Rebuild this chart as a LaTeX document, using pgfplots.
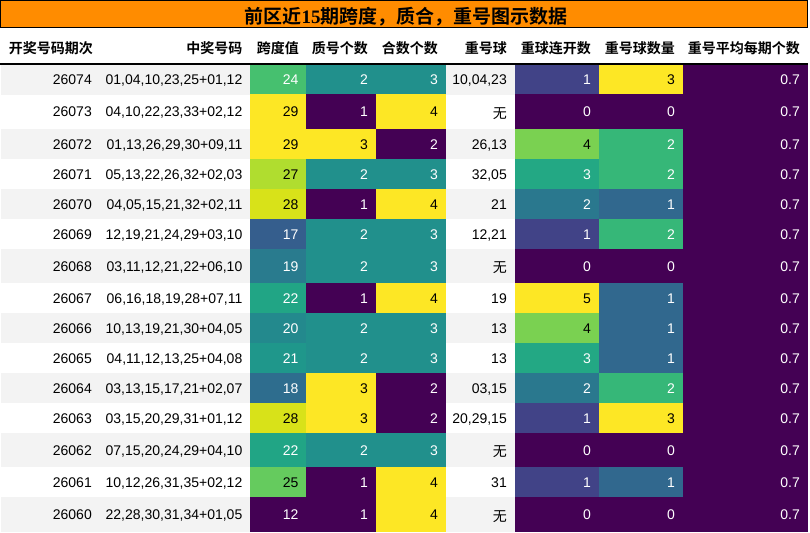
\documentclass[border=0pt]{standalone}
\usepackage{fontspec}
\setmainfont{Liberation Sans}
\newfontfamily\cjk{Noto Sans CJK SC}[BoldFont={Noto Sans CJK SC Bold}]
\newfontfamily\titleserif{Liberation Serif}
\usepackage{pgfplots}
\usepackage{pgfplotstable}
\pgfplotsset{compat=1.18}

\definecolor{rowgray}{HTML}{F3F3F3}
\definecolor{titleorange}{HTML}{FF8C00}

\newcommand\wu{{\cjk\raisebox{-1.5pt}{无}}}

% one filled table cell, half width \cellw and half height \cellh (in pt = px)
\pgfdeclareplotmark{cell}{%
  \pgfpathrectangle{\pgfpoint{-\cellw pt}{-\cellh pt}}{\pgfpoint{2*\cellw pt}{2*\cellh pt}}%
  \pgfusepathqfill}
\pgfdeclareplotmark{nothing}{}

% yc = row centre, h = row height, g = gray background
\pgfplotstableread{
yc h g qi hm kd zh hs cq lk sl pj
79.75 29.5 1 26074 01,04,10,23,25+01,12 24 2 3 10,04,23 1 3 0.7
111.75 34.5 0 26073 04,10,22,23,33+02,12 29 1 4 \wu{} 0 0 0.7
144 30 1 26072 01,13,26,29,30+09,11 29 3 2 26,13 4 2 0.7
174 30 0 26071 05,13,22,26,32+02,03 27 2 3 32,05 3 2 0.7
204 30 1 26070 04,05,15,21,32+02,11 28 1 4 21 2 1 0.7
234 30 0 26069 12,19,21,24,29+03,10 17 2 3 12,21 1 2 0.7
266 34 1 26068 03,11,12,21,22+06,10 19 2 3 \wu{} 0 0 0.7
298 30 0 26067 06,16,18,19,28+07,11 22 1 4 19 5 1 0.7
328 30 1 26066 10,13,19,21,30+04,05 20 2 3 13 4 1 0.7
358 30 0 26065 04,11,12,13,25+04,08 21 2 3 13 3 1 0.7
388 30 1 26064 03,13,15,17,21+02,07 18 3 2 03,15 2 2 0.7
418 30 0 26063 03,15,20,29,31+01,12 28 3 2 20,29,15 1 3 0.7
450 34 1 26062 07,15,20,24,29+04,10 22 2 3 \wu{} 0 0 0.7
482 30 0 26061 10,12,26,31,35+02,12 25 1 4 31 1 1 0.7
514.5 35 1 26060 22,28,30,31,34+01,05 12 1 4 \wu{} 0 0 0.7
}\draws

\tikzset{numtext/.style={font=\fontsize{14}{16}\selectfont, inner sep=0pt}}
\pgfplotsset{
  textcol/.style={only marks, mark=nothing, point meta=explicit symbolic,
    nodes near coords,
    nodes near coords style={numtext, anchor=base east, yshift=-5pt, text=black}},
  heatcell/.style={scatter, only marks, mark=cell, point meta=explicit,
    visualization depends on={value #1 \as \cellw},
    visualization depends on={\thisrow{h}/2+0.3 \as \cellh}},
  heatlabel/.style={only marks, mark=nothing, point meta=explicit,
    nodes near coords={\ifdim\pgfplotspointmetatransformed pt<740pt\color{white}\else\color{black}\fi
      \pgfmathprintnumber[assume math mode=true]{\pgfplotspointmeta}},
    nodes near coords style={numtext, anchor=base east, yshift=-5pt}},
}

\begin{document}
\begin{tikzpicture}
\begin{axis}[
  x=1pt, y=1pt,
  xmin=0, xmax=810, ymin=0, ymax=532,
  y dir=reverse,
  hide axis,
  clip=false,
  colormap/viridis,
  point meta rel=per plot,
]
% title bar
\draw[fill=titleorange, line width=1.4pt] (axis cs:0.7,0.7) rectangle (axis cs:807.3,27.6);
\node[anchor=base, font=\fontsize{19}{21}\selectfont] at (axis cs:406,23.5)
  {\cjk\bfseries 前区近{\titleserif\bfseries 15}期跨度，质合，重号图示数据};

% header
\begin{scope}[font=\cjk\bfseries\fontsize{14}{16}\selectfont, inner sep=0pt]
\node[anchor=base east] at (axis cs:93,53.5) {开奖号码期次};
\node[anchor=base east] at (axis cs:242.5,53.5) {中奖号码};
\node[anchor=base east] at (axis cs:299,53.5) {跨度值};
\node[anchor=base east] at (axis cs:368,53.5) {质号个数};
\node[anchor=base east] at (axis cs:438,53.5) {合数个数};
\node[anchor=base east] at (axis cs:507,53.5) {重号球};
\node[anchor=base east] at (axis cs:591,53.5) {重球连开数};
\node[anchor=base east] at (axis cs:675,53.5) {重号球数量};
\node[anchor=base east] at (axis cs:800,53.5) {重号平均每期个数};
\end{scope}
\draw[line width=1.3pt] (axis cs:0,64) -- (axis cs:808,64);

% alternating gray rows
\addplot[only marks, mark=cell, color=rowgray,
  visualization depends on={value 403.5 \as \cellw},
  visualization depends on={\thisrow{h}/2+0.3 \as \cellh},
  restrict expr to domain={\thisrow{g}}{1:1}]
  table[x expr=404.5, y=yc] {\draws};

% plain text columns
\addplot[textcol] table[x expr=92, y=yc, meta=qi] {\draws};
\addplot[textcol] table[x expr=242.5, y=yc, meta=hm] {\draws};
\addplot[textcol] table[x expr=507, y=yc, meta=cq] {\draws};

% heat-map columns: cells, then their values
\addplot[heatcell=28] table[x expr=278, y=yc, meta=kd] {\draws};
\addplot[heatcell=35] table[x expr=341, y=yc, meta=zh] {\draws};
\addplot[heatcell=35] table[x expr=411, y=yc, meta=hs] {\draws};
\addplot[heatcell=42] table[x expr=557, y=yc, meta=lk] {\draws};
\addplot[heatcell=42] table[x expr=641, y=yc, meta=sl] {\draws};
\addplot[heatcell=62.5] table[x expr=745.5, y=yc, meta=pj] {\draws};

\addplot[heatlabel] table[x expr=298.7, y=yc, meta=kd] {\draws};
\addplot[heatlabel] table[x expr=368, y=yc, meta=zh] {\draws};
\addplot[heatlabel] table[x expr=438, y=yc, meta=hs] {\draws};
\addplot[heatlabel] table[x expr=591, y=yc, meta=lk] {\draws};
\addplot[heatlabel] table[x expr=675, y=yc, meta=sl] {\draws};
\addplot[heatlabel] table[x expr=800, y=yc, meta=pj] {\draws};
\end{axis}
\pgfresetboundingbox
\useasboundingbox (current axis.south west) rectangle (current axis.north east);
\end{tikzpicture}
\end{document}
